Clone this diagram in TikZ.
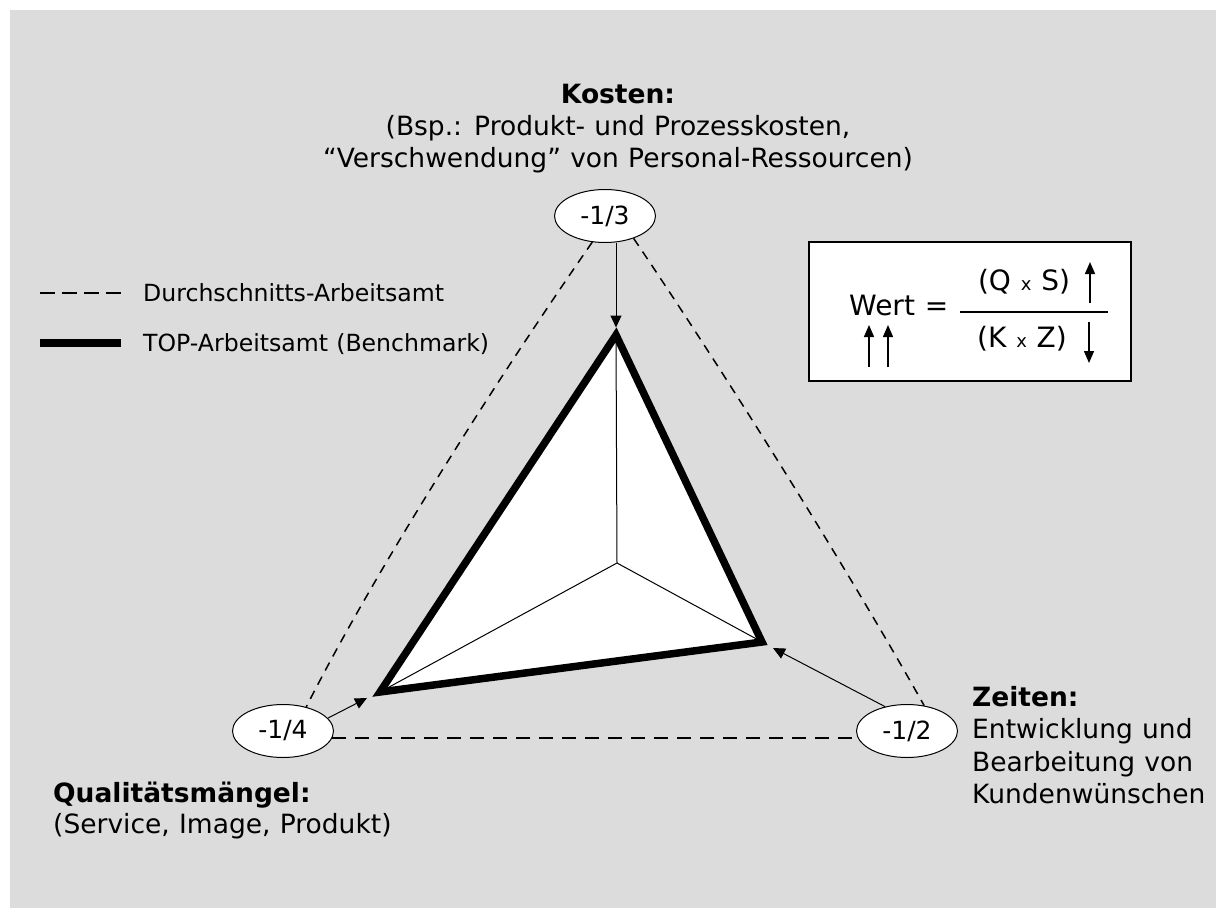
\documentclass[tikz,border=0pt]{standalone}
\usepackage{fontspec}
\setmainfont[WordSpace=1.1]{DejaVu Sans}
\usetikzlibrary{arrows.meta,shapes.geometric}
\definecolor{bggray}{HTML}{DCDCDC}
\begin{document}
\begin{tikzpicture}[x=1pt,y=-1pt,
  txt/.style={inner sep=0pt, anchor=base west, font=\fontsize{26.5}{32}\selectfont},
  txtb/.style={inner sep=0pt, anchor=base west, font=\fontsize{26.5}{32}\selectfont\bfseries},
  leg/.style={inner sep=0pt, anchor=base west, font=\fontsize{23.6}{28}\selectfont},
  val/.style={ellipse, draw, fill=white, line width=1pt, minimum width=101pt, minimum height=53pt, inner sep=0pt, font=\fontsize{25}{30}\selectfont},
  thinarrow/.style={line width=1pt, -{Triangle[length=12pt,width=11pt]}},
  avgline/.style={line width=1.5pt, dash pattern=on 9pt off 7pt},
  avgbase/.style={line width=2.5pt, dash pattern=on 14pt off 9pt},
  legdash/.style={line width=2.5pt, dash pattern=on 15pt off 7pt},
  topline/.style={line width=7.5pt, line join=miter},
  spoke/.style={line width=1pt},
  fmla/.style={inner sep=0pt, anchor=base, font=\fontsize{28}{34}\selectfont},
  farrow/.style={line width=1.5pt, -{Triangle[length=12pt,width=10pt]}},
]
% background
\fill[white] (0,0) rectangle (1216,908);
\useasboundingbox (0,0) rectangle (1216,908);
\fill[bggray] (10,10) rectangle (1216,908);

% value ellipses
\node[val] (e3) at (605,216) {-1/3};
\node[val] (e4) at (283,731) {-1/4};
\node[val] (e2) at (907,731) {-1/2};

% average (dashed) triangle
\draw[avgline] (e3.244) .. controls +(-91,131) and +(72,-142) .. (e4.46);
\draw[avgline] (e3.-38) .. controls +(90,133) and +(-78,-139) .. (e2.56);
\draw[avgbase] (e4.-8) -- (e2.188);

% top (benchmark) triangle
\coordinate (vt) at (616,335);
\coordinate (vr) at (762,642);
\coordinate (vl) at (380,692);
\coordinate (c) at (617,563);
\fill[white] (vt) -- (vr) -- (vl) -- cycle;
\draw[spoke] (c) -- (vt) (c) -- (vr) (c) -- (vl);
\draw[topline] (vt) -- (vr) -- (vl) -- cycle;

% arrows from the values
\coordinate (tipT) at (616,327.5);
\coordinate (tipR) at (773,648);
\coordinate (tipL) at (367,698);
\draw[thinarrow] (tipT |- e3.south) -- (tipT);
\draw[thinarrow] (e2.132) -- (tipR);
\draw[thinarrow] (e4.16) -- (tipL);

% labels
\node[txtb, anchor=base] (k1) at (618,103) {Kosten:};
\node[txt, anchor=base] (k2) at (618,135) {(Bsp.: Produkt- und Prozesskosten,};
\node[txt, anchor=base] (k3) at (618,167) {“Verschwendung” von Personal-Ressourcen)};

\node[txtb] (z1) at (972,706) {Zeiten:};
\node[txt] (z2) at (972,738) {Entwicklung und};
\node[txt] (z3) at (972,771) {Bearbeitung von};
\node[txt] (z4) at (972,803) {Kundenwünschen};

\node[txtb] (q1) at (53,802) {Qualitätsmängel:};
\node[txt] (q2) at (53,833) {(Service, Image, Produkt)};

% legend
\coordinate (la1) at (40,293);
\coordinate (lb1) at (121,293);
\draw[legdash] (la1) -- (lb1);
\node[leg] (leg1) at (143,301) {Durchschnitts-Arbeitsamt};
\coordinate (la2) at (40,343);
\coordinate (lb2) at (121,343);
\draw[line width=7.5pt] (la2) -- (lb2);
\node[leg] (leg2) at (143,351) {TOP-Arbeitsamt (Benchmark)};

% formula box
\node[draw, fill=white, line width=1.5pt, minimum width=322pt, minimum height=139pt, inner sep=0pt] (fbox) at (970,311.5) {};
\node[fmla, anchor=base west] (wert) at (849,315) {Wert =};
\coordinate (fl1) at (960,312);
\coordinate (fl2) at (1108,312);
\draw[line width=1.5pt] (fl1) -- (fl2);
\node[fmla] (num) at (1024,290) {(Q {\fontsize{18}{18}\selectfont x} S)};
\node[fmla] (den) at (1022,347) {(K {\fontsize{18}{18}\selectfont x} Z)};
\coordinate (au1) at (1090,303); \coordinate (au2) at (1090,262);
\draw[farrow] (au1) -- (au2);
\coordinate (ad1) at (1089,322); \coordinate (ad2) at (1089,363);
\draw[farrow] (ad1) -- (ad2);
\coordinate (aw1) at (869,367); \coordinate (aw2) at (869,325);
\draw[farrow] (aw1) -- (aw2);
\coordinate (ax1) at (888,367); \coordinate (ax2) at (888,325);
\draw[farrow] (ax1) -- (ax2);
\end{tikzpicture}
\end{document}
